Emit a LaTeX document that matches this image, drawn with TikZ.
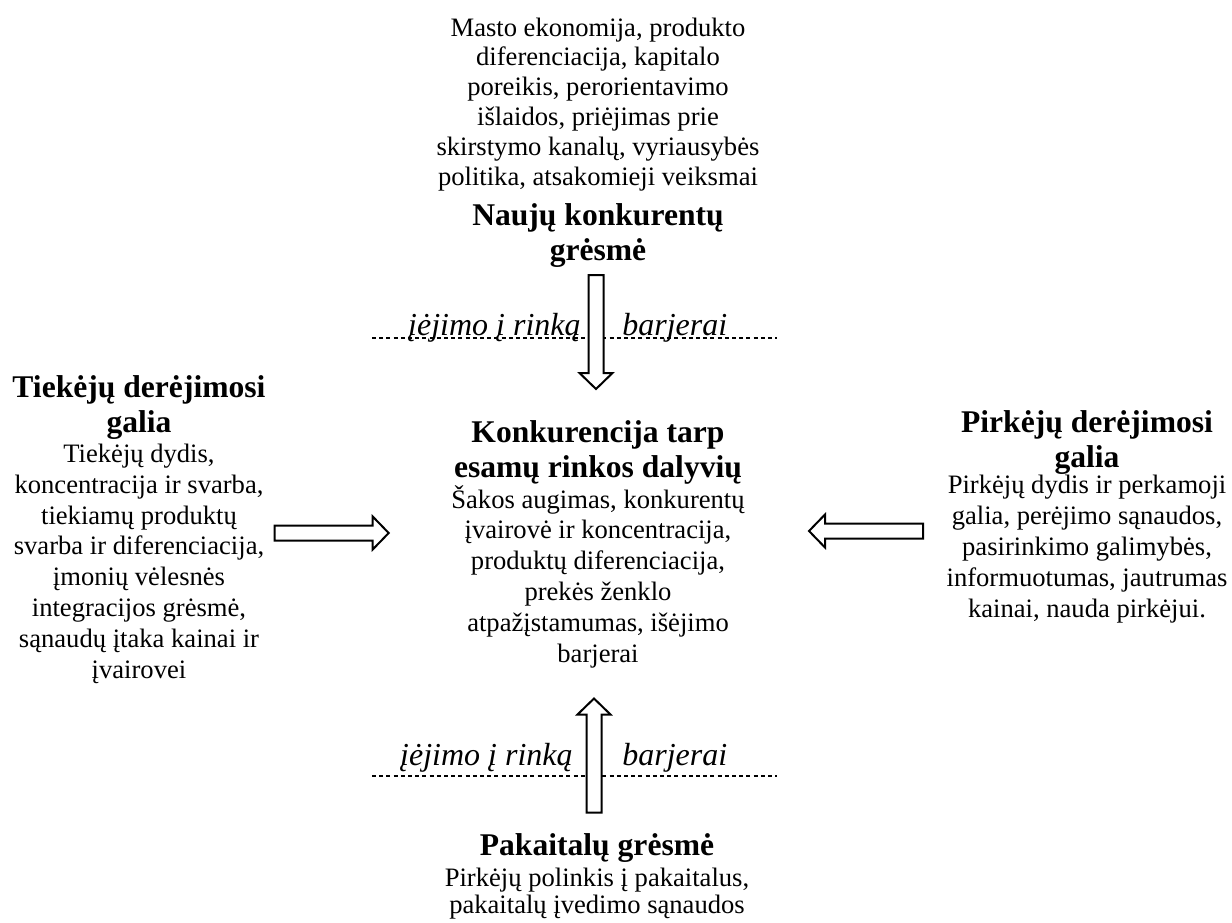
\documentclass[tikz,border=0pt]{standalone}
\usepackage{fontspec}
\setmainfont{Liberation Serif}
\begin{document}
\begin{tikzpicture}[x=0.5pt,y=-0.5pt,
  heading/.style={font=\fontsize{15.8pt}{17.5pt}\selectfont\bfseries, align=center, inner sep=0pt, anchor=base},
  body/.style={font=\fontsize{13.3pt}{15.4pt}\selectfont, align=center, inner sep=0pt, anchor=base},
  barrier/.style={font=\fontsize{16pt}{18pt}\selectfont\itshape, inner sep=0pt},
  barrierline/.style={line width=0.55pt, dash pattern=on 2pt off 1.6pt},
  blockarrow/.pic={
    % hollow block arrow pointing along +x, centred on the origin
    \draw[line width=1pt, fill=white, line join=miter]
      (-57,-7.5) -- (41,-7.5) -- (41,-16.5) -- (57,0) -- (41,16.5)
      -- (41,7.5) -- (-57,7.5) -- cycle;
  }]

\useasboundingbox (0,0) rectangle (1232,922);

% --- new entrants (top) ---
\node[body, font=\fontsize{13.3pt}{14.9pt}\selectfont] (entrantsText) at (598,185)
  {Masto ekonomija, produkto\\diferenciacija, kapitalo\\poreikis, perorientavimo\\išlaidos, priėjimas prie\\skirstymo kanalų, vyriausybės\\politika, atsakomieji veiksmai};
\node[heading] (entrants) at (598,260) {Naujų konkurentų\\grėsmė};

% --- suppliers (left) ---
\node[heading] (suppliers) at (139,432) {Tiekėjų derėjimosi\\galia};
\node[body] (suppliersText) at (139,678)
  {Tiekėjų dydis,\\koncentracija ir svarba,\\tiekiamų produktų\\svarba ir diferenciacija,\\įmonių vėlesnės\\integracijos grėsmė,\\sąnaudų įtaka kainai ir\\įvairovei};

% --- industry rivalry (centre) ---
\node[heading] (rivalry) at (598,477) {Konkurencija tarp\\esamų rinkos dalyvių};
\node[body] (rivalryText) at (598,662)
  {Šakos augimas, konkurentų\\įvairovė ir koncentracija,\\produktų diferenciacija,\\prekės ženklo\\atpažįstamumas, išėjimo\\barjerai};

% --- buyers (right) ---
\node[heading] (buyers) at (1087,467) {Pirkėjų derėjimosi\\galia};
\node[body] (buyersText) at (1087,617)
  {Pirkėjų dydis ir perkamoji\\galia, perėjimo sąnaudos,\\pasirinkimo galimybės,\\informuotumas, jautrumas\\kainai, nauda pirkėjui.};

% --- substitutes (bottom) ---
\node[heading] (substitutes) at (597,855) {Pakaitalų grėsmė};
\node[body, font=\fontsize{13.3pt}{13.4pt}\selectfont] (substitutesText) at (597,913)
  {Pirkėjų polinkis į pakaitalus,\\pakaitalų įvedimo sąnaudos};

% --- entry barrier lines ---
\coordinate (topBarL) at (372,338);
\coordinate (topBarR) at (777,338);
\coordinate (botBarL) at (372,776);
\coordinate (botBarR) at (777,776);
\draw[barrierline] (topBarL) -- (topBarR);
\draw[barrierline] (botBarL) -- (botBarR);
\node[barrier, anchor=base east] (topBarrierA) at (581,335) {įėjimo į rinką};
\node[barrier, anchor=base west] (topBarrierB) at (622,335) {barjerai};
\node[barrier, anchor=base east] (botBarrierA) at (573,765) {įėjimo į rinką};
\node[barrier, anchor=base west] (botBarrierB) at (622,765) {barjerai};

% --- force arrows towards the centre ---
\pic[rotate=-90] (arrowTop) at (596,332) {blockarrow};
\pic[rotate=90] (arrowBottom) at (594,755.5) {blockarrow};
\pic (arrowLeft) at (331.7,533) {blockarrow};
\pic[rotate=180] (arrowRight) at (866,531) {blockarrow};
\end{tikzpicture}
\end{document}
